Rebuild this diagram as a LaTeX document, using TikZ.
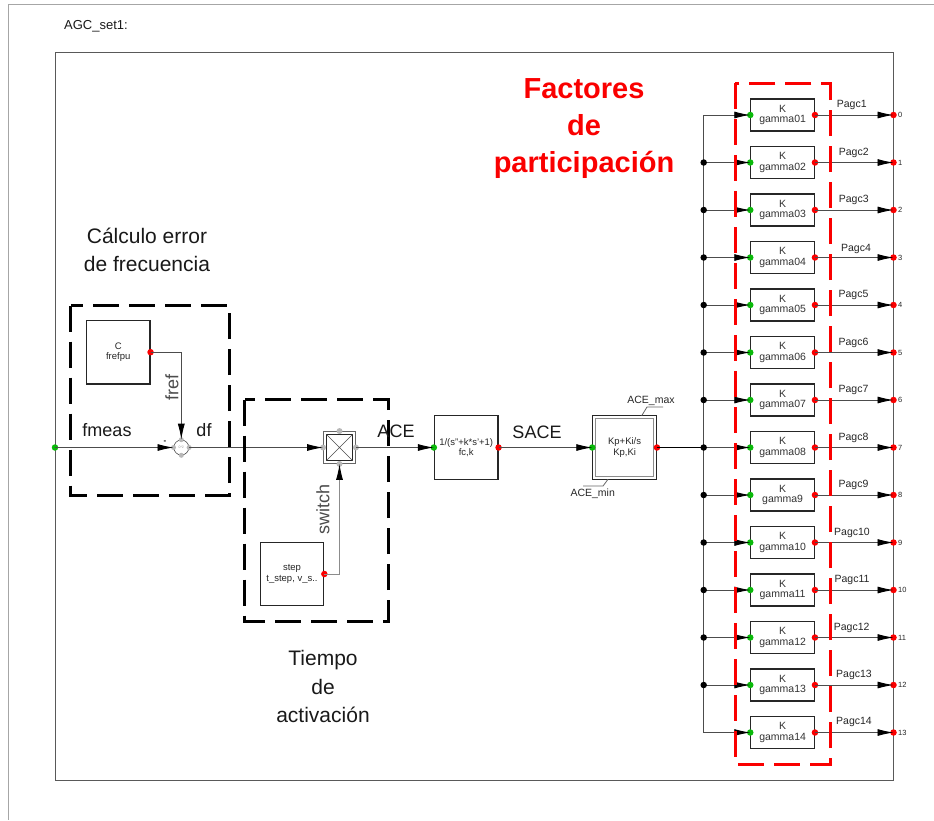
\documentclass[tikz,border=0pt]{standalone}
\usepackage{fontspec}
\setmainfont{Liberation Sans}
\usetikzlibrary{arrows.meta,shapes.geometric,calc}
\definecolor{wire}{gray}{0.3}
\definecolor{pin}{gray}{0.72}
\definecolor{rdot}{RGB}{250,0,0}
\definecolor{gdot}{RGB}{10,185,10}
\tikzset{
  x=1pt,y=-1pt,
  wire/.style={draw=wire,line width=0.9pt},
  tip/.style={wire,-{Latex[length=16pt,width=7pt,black]}},
  block/.style={draw=black!85,line width=1.2pt,minimum width=63.5pt,minimum height=63.5pt,inner sep=0pt,align=center,font=\fontsize{9.5}{10.5}\selectfont,text=black!85},
  kblock/.style={draw=black!85,line width=1.2pt,minimum width=63.5pt,minimum height=32pt,inner sep=0pt,align=center,font=\fontsize{10.5}{10.5}\selectfont,text=black!80},
  reddot/.style={circle,fill=rdot,minimum size=6.5pt,inner sep=0pt},
  greendot/.style={circle,fill=gdot,minimum size=6.5pt,inner sep=0pt},
  blackdot/.style={circle,fill=black,minimum size=6.5pt,inner sep=0pt},
  greydot/.style={circle,fill=pin,minimum size=6pt,inner sep=0pt},
  bigtxt/.style={font=\fontsize{21}{28.5}\selectfont,align=center,text=black!90},
  sigtxt/.style={font=\fontsize{18}{20}\selectfont,text=black!90},
  smalltxt/.style={font=\fontsize{10.5}{12}\selectfont,text=black!85},
  pintxt/.style={font=\fontsize{7.5}{9}\selectfont,text=black!85,anchor=west,inner sep=0pt},
  groupbox/.style={draw=black,line width=3pt,dash pattern=on 26pt off 10pt},
  redbox/.style={draw=rdot,line width=3pt,dash pattern=on 26pt off 10pt},
}
\begin{document}
\begin{tikzpicture}
\useasboundingbox (0,0) rectangle (934,820);
% page and frame
\draw[draw=black!35,line width=0.9pt] (934,4) -- (8,4) -- (8,820);
\draw[draw=black!65,line width=0.9pt] (55,52) rectangle (893.5,780);
\node[anchor=west,inner sep=0pt,font=\fontsize{13}{15}\selectfont,text=black!90] (title) at (64,26) {AGC\_set1:};

% blocks
\node[block] (cblk) at (118.2,352.2) {C\\frefpu};
\node[block] (stepblk) at (292,574) {step\\t\_step, v\_s..};
\node[block] (flt) at (466.2,447.5) {1/(s''+k*s'+1)\\fc,k};
\node[block] (pi) at (624.6,447.5) {Kp+Ki/s\\Kp,Ki};
\draw[draw=black!45,line width=1pt] ($(pi.south west)+(3.5,-3.5)$) rectangle ($(pi.north east)+(-3.5,3.5)$);

% sum
\node[circle,draw=black!70,fill=white,line width=0.6pt,minimum size=15pt,inner sep=0pt,font=\fontsize{3.5}{4}\selectfont,text=black!40] (sum) at (181.3,447.5) {0*2};
\foreach \a in {west,east,north,south}{\node[greydot,minimum size=5pt] at (sum.\a) {};}

% switch
\node[draw=black!60,line width=0.9pt,minimum size=32pt,inner sep=0pt] (sw) at (339.5,447.5) {};
\node[draw=black!85,line width=0.9pt,minimum size=25.5pt,inner sep=0pt] (swin) at (339.5,447.5) {};
\draw[draw=black!70,line width=0.6pt] (swin.north west) -- (swin.south east) (swin.north east) -- (swin.south west);
\node[greydot] (swn) at (sw.north) {};
\node[greydot] (sws) at (sw.south) {};
\node[greydot] (swe) at (sw.east) {};
\node[greydot] (swo) at (sw.west) {};

% input and single-line chain
\node[greendot] (in) at (55,447.5) {};
\node[reddot] (cout) at (cblk.east) {};
\node[reddot] (stepout) at (stepblk.east) {};
\node[greendot] (fltin) at (flt.west) {};
\node[reddot] (fltout) at (flt.east) {};
\node[greendot] (piin) at (pi.west) {};
\node[reddot] (piout) at (pi.east) {};

\draw[tip] (in.center) -- (sum.west);
\draw[tip] (sum.east) -- (swo.center);
\draw[tip] (cout.center) -| (sum.north);
\draw[tip,draw=black!45] (stepout.center) -| (sws.center);
\draw[tip] (swe.center) -- (fltin.center);
\draw[tip] (fltout.center) -- (piin.center);

% participation rows
\coordinate (bustop) at (703.7,115);
\coordinate (busbot) at (703.7,732.5);
\foreach \i/\nm/\lx/\ly in {0/gamma01/851.7/105,1/gamma02/853.7/152.5,2/gamma03/853.7/200,3/gamma04/856/249,4/gamma05/853.5/295,5/gamma06/853.5/343,6/gamma07/853.5/390,7/gamma08/853.5/438,8/gamma9/853.5/485,9/gamma10/852/533,10/gamma11/852/580,11/gamma12/851.7/627.5,12/gamma13/854/675,13/gamma14/854/722}{
  \pgfmathsetmacro{\ry}{115+47.5*\i}
  \node[kblock] (k\i) at (782.6,\ry) {K\\\nm};
  \node[greendot] (kin\i) at (k\i.west) {};
  \node[reddot] (kout\i) at (k\i.east) {};
  \coordinate (tap\i) at (703.7,\ry);
  \node[reddot] (out\i) at (893.5,\ry) {};
  \draw[tip] (tap\i) -- (kin\i.center);
  \draw[tip] (kout\i.center) -- (out\i.center);
  \node[smalltxt] (lab\i) at (\lx,\ly) {Pagc\the\numexpr\i+1\relax};
  \node[pintxt] (num\i) at (898,\ry) {\i};
}
\draw[wire] (tap0) -- (tap13);
\foreach \i in {1,...,12}{\node[blackdot] (d\i) at (tap\i) {};}
\draw[wire,draw=black] (piout.center) -- (d7.center);

% limits
\node[smalltxt] (acemax) at (651,401) {ACE\_max};
\node[smalltxt] (acemin) at (592.7,494) {ACE\_min};
\coordinate (maxa) at (641.7,415.7);
\coordinate (maxb) at (647,407);
\coordinate (maxc) at (663,407);
\coordinate (mina) at (608,479.3);
\coordinate (minb) at (603,486);
\coordinate (minc) at (583,486);
\draw[draw=black!60,line width=0.8pt] (maxa) -- (maxb) -- (maxc);
\draw[draw=black!60,line width=0.8pt] (mina) -- (minb) -- (minc);

% group frames
\draw[groupbox] (70.5,305.5) rectangle (229,495);
\draw[groupbox] (244.5,399.5) rectangle (388,621);
\draw[redbox] (735.3,83) rectangle (830.3,764);

% free text
\node[bigtxt] (t1) at (147,250) {Cálculo error\\de frecuencia};
\node[bigtxt] (t2) at (323,686.5) {Tiempo\\de\\activación};
\node[font=\fontsize{29}{37}\bfseries\selectfont,text=rdot,align=center] (t3) at (584,129) {Factores\\de\\participación};
\node[sigtxt] (fmeas) at (107,430) {fmeas};
\node[sigtxt] (df) at (204,430) {df};
\node[sigtxt] (ace) at (396,431) {ACE};
\node[sigtxt] (sace) at (537,432) {SACE};
\node[sigtxt,rotate=90,text=black!70] (fref) at (172,387) {fref};
\node[sigtxt,rotate=90,text=black!70] (swl) at (323,509) {switch};
\node[font=\bfseries\fontsize{8}{8}\selectfont,inner sep=0pt] (minus) at (165,442) {-};
\end{tikzpicture}
\end{document}
